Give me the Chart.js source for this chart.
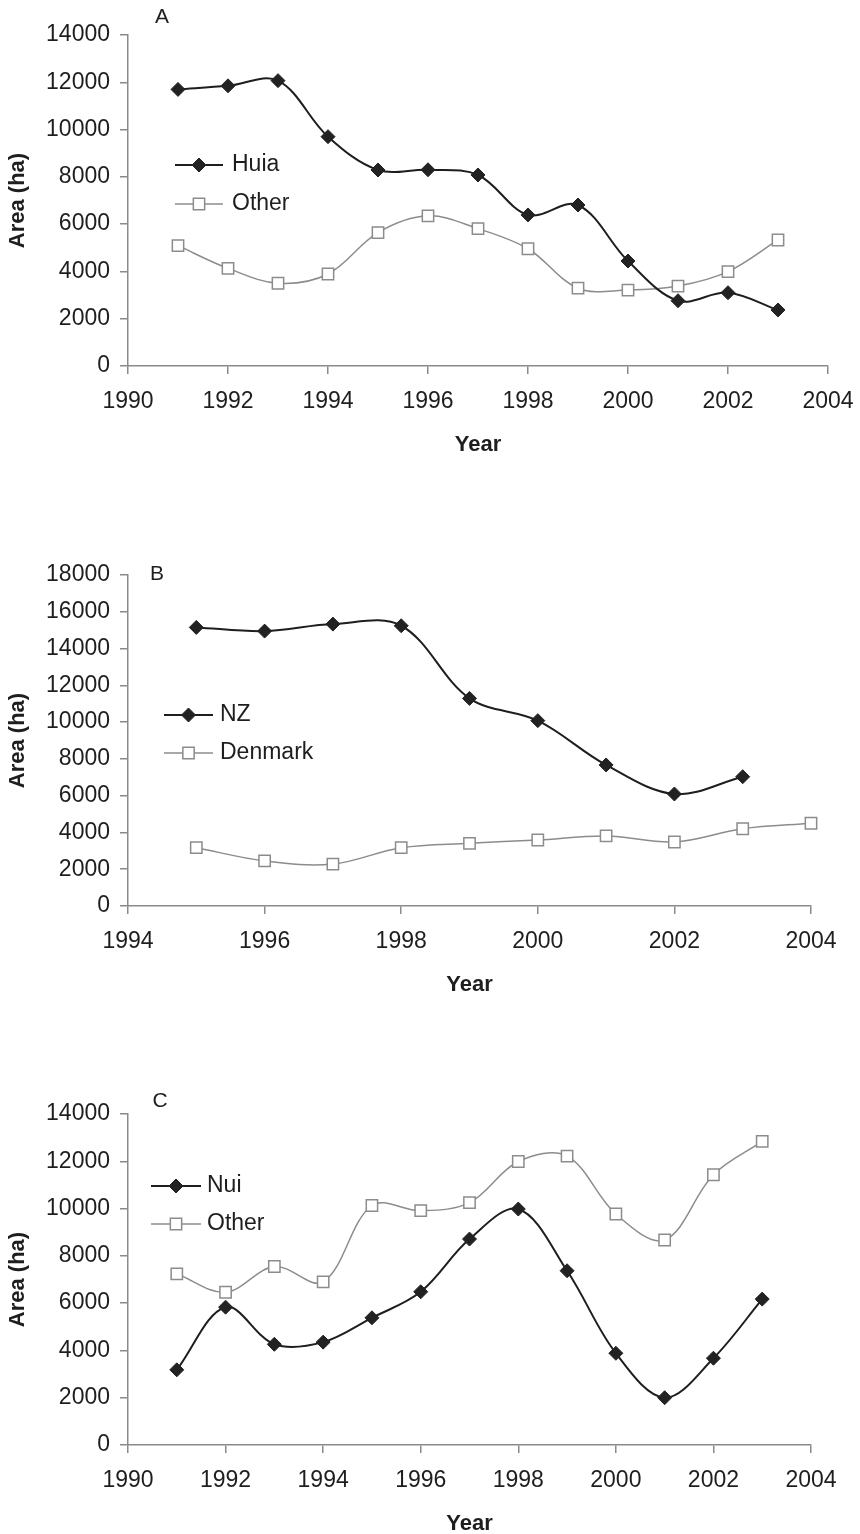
<!DOCTYPE html>
<html>
<head>
<meta charset="utf-8">
<script src="https://cdn.jsdelivr.net/npm/chart.js@4.4.1/dist/chart.umd.min.js"></script>
<style>
  html, body { margin: 0; padding: 0; background: #fff; overflow: hidden; }
  .panel { position: absolute; left: 0; width: 860px; height: 460px; }
</style>
</head>
<body>
<div class="panel" style="top:0px"><canvas id="chartA"></canvas></div>
<div class="panel" style="top:540px"><canvas id="chartB"></canvas></div>
<div class="panel" style="top:1079px"><canvas id="chartC"></canvas></div>
<script>
// Panel A
const yearsA = [1991, 1992, 1993, 1994, 1995, 1996, 1997, 1998, 1999, 2000, 2001, 2002, 2003];
const huia   = [11700, 11850, 12070, 9700, 8290, 8300, 8080, 6390, 6810, 4440, 2760, 3100, 2370];
const otherA = [5090, 4130, 3500, 3890, 5640, 6350, 5810, 4960, 3290, 3210, 3380, 3990, 5330];
const xTicksA = [1990, 1992, 1994, 1996, 1998, 2000, 2002, 2004];
const yTicksA = [0, 2000, 4000, 6000, 8000, 10000, 12000, 14000];

// Panel B
const yearsB  = [1995, 1996, 1997, 1998, 1999, 2000, 2001, 2002, 2003, 2004];
const nz      = [15150, 14950, 15330, 15240, 11290, 10080, 7670, 6090, 7030];
const denmark = [3170, 2450, 2280, 3170, 3410, 3590, 3810, 3480, 4200, 4500];
const xTicksB = [1994, 1996, 1998, 2000, 2002, 2004];
const yTicksB = [0, 2000, 4000, 6000, 8000, 10000, 12000, 14000, 16000, 18000];

// Panel C
const yearsC = [1991, 1992, 1993, 1994, 1995, 1996, 1997, 1998, 1999, 2000, 2001, 2002, 2003];
const nui    = [3180, 5830, 4260, 4350, 5380, 6480, 8710, 9980, 7370, 3880, 2000, 3670, 6170];
const otherC = [7240, 6460, 7550, 6900, 10130, 9910, 10250, 11990, 12220, 9770, 8670, 11430, 12840];
const xTicksC = [1990, 1992, 1994, 1996, 1998, 2000, 2002, 2004];
const yTicksC = [0, 2000, 4000, 6000, 8000, 10000, 12000, 14000];

const FONT = '"Liberation Sans", Arial, sans-serif';
const axisColor = '#8a8a8a';
const textColor = '#1e1e1e';

const toPoints = (xs, ys) => ys.map((v, i) => ({ x: xs[i], y: v }));

function darkSeries(label, data) {
  return {
    label, data,
    borderColor: '#1e1e1e', borderWidth: 2,
    pointStyle: 'rectRot', pointRadius: 7, pointBorderWidth: 1,
    pointBackgroundColor: '#222', pointBorderColor: '#222',
    tension: 0.35, clip: false
  };
}
function greySeries(label, data) {
  return {
    label, data,
    borderColor: '#8c8c8c', borderWidth: 1.5,
    pointStyle: 'rect', pointRadius: 8, pointBorderWidth: 1.5,
    pointBackgroundColor: '#fff', pointBorderColor: '#8c8c8c',
    tension: 0.35, clip: false
  };
}

// legend drawn inside the plot, plus the panel letter
const insideLegend = {
  id: 'insideLegend',
  afterDatasetsDraw(chart, args, opts) {
    const ctx = chart.ctx;
    chart.data.datasets.forEach((ds, i) => {
      const y = opts.y + i * opts.gap;
      ctx.save();
      ctx.strokeStyle = ds.borderColor;
      ctx.lineWidth = ds.borderWidth;
      ctx.beginPath();
      ctx.moveTo(opts.x, y);
      ctx.lineTo(opts.x + opts.len, y);
      ctx.stroke();
      ctx.fillStyle = ds.pointBackgroundColor;
      ctx.strokeStyle = ds.pointBorderColor;
      ctx.lineWidth = ds.pointBorderWidth;
      Chart.helpers.drawPoint(ctx, {
        pointStyle: ds.pointStyle, radius: ds.pointRadius,
        borderWidth: ds.pointBorderWidth, rotation: 0
      }, opts.x + opts.len / 2, y);
      ctx.fillStyle = textColor;
      ctx.font = '23px ' + FONT;
      ctx.textBaseline = 'middle';
      ctx.textAlign = 'left';
      ctx.fillText(ds.label, opts.x + opts.len + opts.textGap, y);
      ctx.restore();
    });
    ctx.save();
    ctx.fillStyle = textColor;
    ctx.font = '21px ' + FONT;
    ctx.textAlign = 'center';
    ctx.textBaseline = 'middle';
    ctx.fillText(opts.letter, opts.letterX, opts.letterY);
    ctx.restore();
  }
};

function makeChart(id, datasets, xTicks, yTicks, rightPad, legend) {
  const ctx = document.getElementById(id).getContext('2d');
  return new Chart(ctx, {
    type: 'line',
    data: { datasets },
    plugins: [insideLegend],
    options: {
      responsive: true,
      maintainAspectRatio: false,
      animation: false,
      devicePixelRatio: 1,
      layout: { padding: { top: 35, right: rightPad, bottom: 0, left: 0 } },
      plugins: {
        legend: { display: false },
        tooltip: { enabled: false },
        insideLegend: legend
      },
      scales: {
        x: {
          type: 'linear',
          min: xTicks[0], max: xTicks[xTicks.length - 1],
          afterBuildTicks: s => { s.ticks = xTicks.map(v => ({ value: v })); },
          afterFit: s => { s.height = 94; s.paddingLeft = 0; s.paddingRight = 0; },
          grid: { drawOnChartArea: false, drawTicks: true, tickLength: 8, color: axisColor, lineWidth: 1.5 },
          border: { color: axisColor, width: 1.5 },
          ticks: { color: textColor, font: { family: FONT, size: 23 }, padding: 14, maxRotation: 0, callback: v => String(v) },
          title: { display: true, text: 'Year', color: textColor, font: { family: FONT, size: 22, weight: 'bold' }, padding: { top: 0, bottom: 2 } }
        },
        y: {
          min: yTicks[0], max: yTicks[yTicks.length - 1],
          afterBuildTicks: s => { s.ticks = yTicks.map(v => ({ value: v })); },
          afterFit: s => { s.width = 128; },
          grid: { drawOnChartArea: false, drawTicks: true, tickLength: 8, color: axisColor, lineWidth: 1.5 },
          border: { color: axisColor, width: 1.5 },
          ticks: { color: textColor, font: { family: FONT, size: 23 }, padding: 10, callback: v => String(v) },
          title: { display: true, text: 'Area (ha)', color: textColor, font: { family: FONT, size: 22, weight: 'bold' }, padding: { top: 5, bottom: 0 } }
        }
      }
    }
  });
}

makeChart('chartA',
  [darkSeries('Huia', toPoints(yearsA, huia)), greySeries('Other', toPoints(yearsA, otherA))],
  xTicksA, yTicksA, 32,
  { x: 175, y: 165, gap: 39, len: 48, textGap: 9, letter: 'A', letterX: 162, letterY: 17 });

makeChart('chartB',
  [darkSeries('NZ', toPoints(yearsB, nz)), greySeries('Denmark', toPoints(yearsB, denmark))],
  xTicksB, yTicksB, 49,
  { x: 164, y: 175, gap: 38, len: 49, textGap: 7, letter: 'B', letterX: 157, letterY: 34 });

makeChart('chartC',
  [darkSeries('Nui', toPoints(yearsC, nui)), greySeries('Other', toPoints(yearsC, otherC))],
  xTicksC, yTicksC, 49,
  { x: 151, y: 107, gap: 38, len: 50, textGap: 6, letter: 'C', letterX: 160, letterY: 22 });
</script>
</body>
</html>
